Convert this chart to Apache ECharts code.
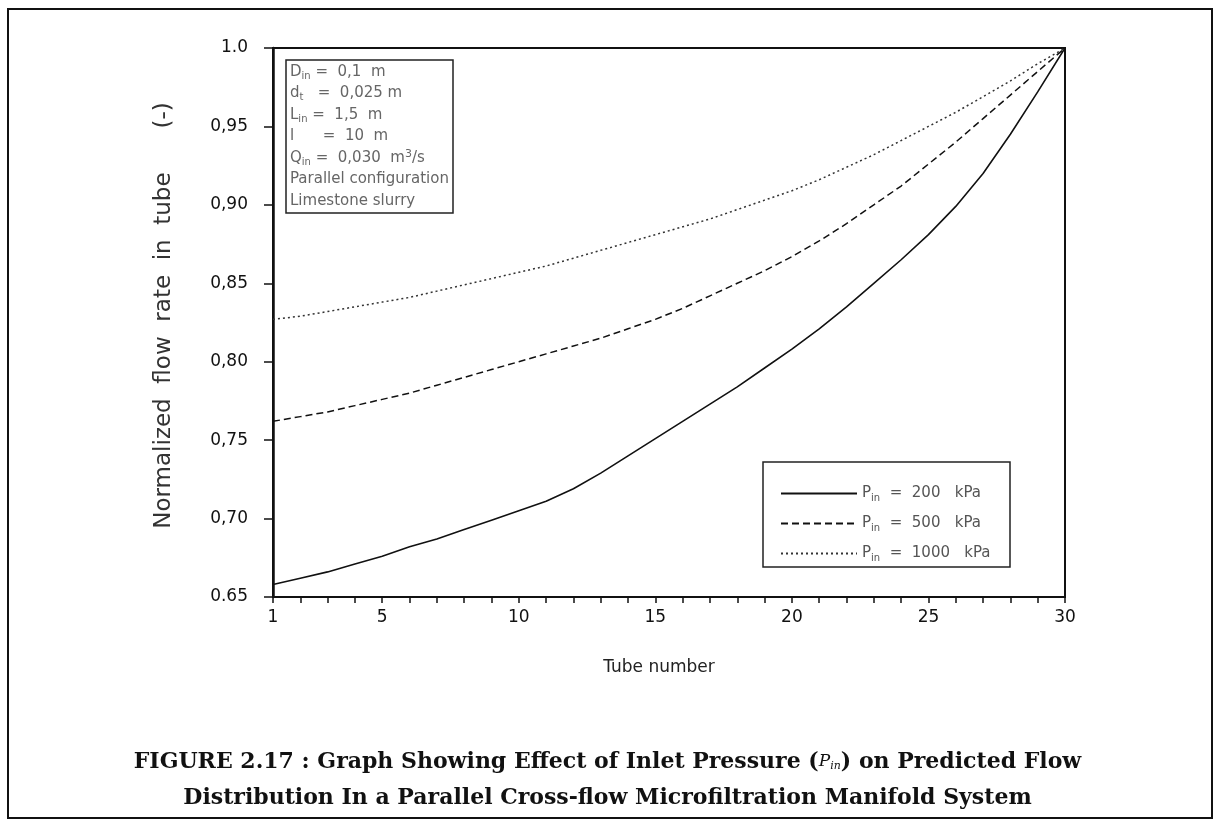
<!DOCTYPE html>
<html><head><meta charset="utf-8">
<script src="https://cdn.jsdelivr.net/npm/echarts@6/dist/echarts.min.js"></script>
<style>html,body{margin:0;padding:0;background:#fff}#c{width:1215px;height:826px}</style>
</head><body><div id="c"></div><script>
// ---- data ----
const tubes = [1,2,3,4,5,6,7,8,9,10,11,12,13,14,15,16,17,18,19,20,21,22,23,24,25,26,27,28,29,30];
const flow200 = [0.658,0.662,0.666,0.671,0.676,0.682,0.687,0.693,0.699,0.705,0.711,0.719,0.729,0.740,0.751,0.762,0.773,0.784,0.796,0.808,0.821,0.835,0.850,0.865,0.881,0.899,0.920,0.945,0.972,1.000];
const flow500 = [0.762,0.765,0.768,0.772,0.776,0.780,0.785,0.790,0.795,0.800,0.805,0.810,0.815,0.821,0.827,0.834,0.842,0.850,0.858,0.867,0.877,0.888,0.900,0.912,0.926,0.940,0.955,0.970,0.985,1.000];
const flow1000 = [0.827,0.829,0.832,0.835,0.838,0.841,0.845,0.849,0.853,0.857,0.861,0.866,0.871,0.876,0.881,0.886,0.891,0.897,0.903,0.909,0.916,0.924,0.932,0.941,0.950,0.959,0.969,0.979,0.990,1.000];
const xTickLabels = ['1','5','10','15','20','25','30'];
const yTickLabels = ['0.65','0,70','0,75','0,80','0,85','0,90','0,95','1.0'];
const seriesNames = ['200','500','1000'];

const chart = echarts.init(document.getElementById('c'), null, {renderer:'canvas'});
const F = 'DejaVu Sans';
const sub = {fontSize:10, padding:[9,0,0,0], fontFamily:F, color:'#555'};
const nrm = {fontSize:15, fontFamily:F, color:'#555'};
const AC = '#666';

const option = {
  backgroundColor:'#fff',
  animation:false,
  grid:{left:273, right:150, top:48, bottom:229, show:true, borderColor:'#111', borderWidth:2},
  xAxis:{
    type:'category', data:tubes.map(String), boundaryGap:false,
    axisLine:{lineStyle:{color:'#111', width:2}},
    axisTick:{show:true, interval:0, length:6, lineStyle:{color:'#111', width:1.5}},
    axisLabel:{interval:0, margin:12, fontFamily:F, fontSize:17, color:'#111',
      formatter:v=> xTickLabels.includes(v) ? v : ''},
    splitLine:{show:false},
    name:'Tube number', nameLocation:'middle', nameGap:62,
    nameTextStyle:{fontFamily:F, fontSize:17, color:'#222', padding:[0,20,0,0]}
  },
  yAxis:{
    type:'value', min:0.65, max:1.0, interval:0.05,
    axisLine:{show:true, lineStyle:{color:'#111', width:2.5}},
    axisTick:{show:true, length:9, lineStyle:{color:'#111', width:1.5}},
    axisLabel:{margin:25, fontFamily:F, fontSize:17, color:'#111',
      formatter:v=> yTickLabels[Math.round((v-0.65)/0.05)]},
    splitLine:{show:false},
    name:'Normalized  flow  rate  in  tube      (-)', nameLocation:'middle', nameGap:97, nameRotate:90,
    nameTextStyle:{fontFamily:F, fontSize:23, color:'#333', padding:[0,0,0,14]}
  },
  legend:{
    orient:'vertical', left:775, top:481, itemGap:13, itemWidth:76, itemHeight:10,
    data:seriesNames,
    itemStyle:{opacity:0},
    formatter: n => '{a|P}{b|in}{a|  =  ' + n + '   kPa}',
    textStyle:{rich:{a:nrm, b:sub}}
  },
  graphic:[
    {type:'rect', shape:{x:8, y:9, width:1204, height:809}, style:{fill:'none', stroke:'#111', lineWidth:2}, silent:true},
    {type:'rect', shape:{x:286, y:60, width:167, height:153}, style:{fill:'#fff', stroke:'#222', lineWidth:1.5}, z:10},
    {type:'text', left:290, top:63, z:11, style:{
      fill:AC,
      text:'{a|D}{b|in}{a| =  0,1  m}\n{a|d}{b|t}{a|   =  0,025 m}\n{a|L}{b|in}{a| =  1,5  m}\n{a|l      =  10  m}\n{a|Q}{b|in}{a| =  0,030  m}{c|3}{a|/s}\n{a|Parallel configuration}\n{a|Limestone slurry}',
      rich:{a:{fontSize:15, fontFamily:F, fill:AC, lineHeight:21.5},
            b:{fontSize:10, fontFamily:F, fill:AC, padding:[8,0,0,0], lineHeight:21.5},
            c:{fontSize:11, fontFamily:F, fill:AC, padding:[0,0,8,0], lineHeight:21.5}}}},
    {type:'rect', shape:{x:763, y:462, width:247, height:105}, style:{fill:'none', stroke:'#222', lineWidth:1.5}, z:10},
    {type:'text', left:'center', top:751, style:{
      fill:'#111',
      text:'{n|FIGURE 2.17 : Graph Showing Effect of Inlet Pressure (}{i|P}{s|in}{n|) on Predicted Flow}\n{n|Distribution In a Parallel Cross-flow Microfiltration Manifold System}',
      align:'center',
      rich:{n:{fontFamily:'DejaVu Serif', fontWeight:'bold', fontSize:22, fill:'#111', lineHeight:36, align:'center'},
            i:{fontFamily:'DejaVu Serif', fontStyle:'italic', fontSize:17, fill:'#111', lineHeight:36},
            s:{fontFamily:'DejaVu Serif', fontStyle:'italic', fontSize:11, fill:'#111', padding:[8,0,0,0], lineHeight:36}}}}
  ],
  series:[
    {name:'200', type:'line', data:flow200, symbol:'none', smooth:false,
     lineStyle:{color:'#111', width:1.6, type:'solid'}, itemStyle:{color:'#111'}},
    {name:'500', type:'line', data:flow500, symbol:'none',
     lineStyle:{color:'#111', width:1.5, type:[7,4]}, itemStyle:{color:'#111'}},
    {name:'1000', type:'line', data:flow1000, symbol:'none',
     lineStyle:{color:'#333', width:1.5, type:[2,3]}, itemStyle:{color:'#333'}}
  ]
};
chart.setOption(option);
</script></body></html>
